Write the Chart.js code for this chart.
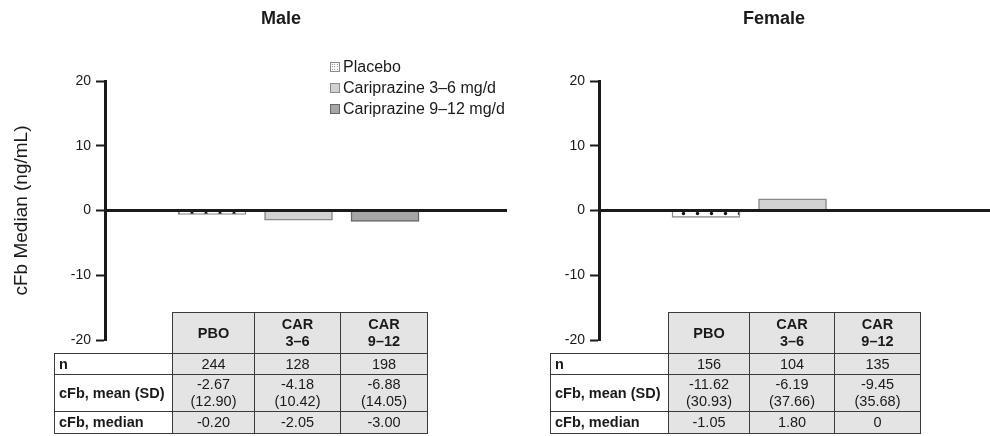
<!DOCTYPE html>
<html>
<head>
<meta charset="utf-8">
<script src="https://cdn.jsdelivr.net/npm/chart.js@4.4.1/dist/chart.umd.min.js"></script>
<style>
  html, body { margin: 0; padding: 0; background: #fff; }
  #wrap { position: relative; width: 990px; height: 436px; overflow: hidden; font-family: 'Liberation Sans', Arial, sans-serif; color: #1a1a1a; }
  canvas { position: absolute; top: 0; }
  .title { position: absolute; top: 8px; font-weight: bold; font-size: 18px; transform: translateX(-50%); white-space: nowrap; }
  #legend { position: absolute; left: 330px; top: 56px; font-size: 16px; line-height: 21px; }
  #legend .item { display: flex; align-items: center; white-space: nowrap; }
  #legend .sw { width: 8px; height: 8px; border: 1px solid #6e6e6e; margin-right: 3px; box-sizing: content-box; }
  table.tbl { position: absolute; top: 312px; border-collapse: collapse; table-layout: fixed; font-size: 14.5px; }
  table.tbl td { border: 1.5px solid #3a3a3a; padding: 0; text-align: center; background: #e4e4e4; line-height: 17px; }
  table.tbl td.lab { background: #fff; text-align: left; padding-left: 4px; font-weight: bold; }
  table.tbl td.blank { border: none; background: transparent; }
  table.tbl tr.head td { font-weight: bold; }
</style>
</head>
<body>
<div id="wrap">
  <canvas id="maleChart" width="510" height="436" style="left:0px;width:510px;height:436px"></canvas>
  <canvas id="femaleChart" width="496" height="436" style="left:494px;width:496px;height:436px"></canvas>
  <div class="title" style="left:281px">Male</div>
  <div class="title" style="left:774px">Female</div>
  <div id="legend"></div>
  <table class="tbl" id="maleTable" style="left:54px"></table>
  <table class="tbl" id="femaleTable" style="left:550px"></table>
</div>
<script>
// ---------- data ----------
const categories = ['PBO', 'CAR 3–6', 'CAR 9–12'];
const headerLines = [['PBO'], ['CAR', '3–6'], ['CAR', '9–12']];
const seriesNames = ['Placebo', 'Cariprazine 3–6 mg/d', 'Cariprazine 9–12 mg/d'];
const yTicks = [-20, -10, 0, 10, 20];
const yAxisTitle = 'cFb Median (ng/mL)';

// bar heights as drawn (cFb median, ng/mL)
const maleBars = [-0.6, -1.5, -1.7];
const femaleBars = [-1.05, 1.80, 0];

// table values
const rowLabels = ['n', 'cFb, mean (SD)', 'cFb, median'];
const maleN = ['244', '128', '198'];
const maleMean = ['-2.67', '-4.18', '-6.88'];
const maleSD = ['12.90', '10.42', '14.05'];
const maleMedian = ['-0.20', '-2.05', '-3.00'];
const femaleN = ['156', '104', '135'];
const femaleMean = ['-11.62', '-6.19', '-9.45'];
const femaleSD = ['30.93', '37.66', '35.68'];
const femaleMedian = ['-1.05', '1.80', '0'];

// ---------- styles ----------
const INK = '#1a1a1a';
const FONT = "'Liberation Sans', Arial, sans-serif";
const fills = [null, '#d2d2d2', '#a6a6a6'];
const borders = ['#8a8a8a', '#8a8a8a', '#666666'];

function dotPattern(dx, dy) {
  const c = document.createElement('canvas');
  c.width = 14; c.height = 14;
  const g = c.getContext('2d');
  g.fillStyle = '#ffffff';
  g.fillRect(0, 0, 14, 14);
  g.fillStyle = '#111111';
  g.beginPath();
  g.arc(dx, dy, 1.7, 0, Math.PI * 2);
  g.fill();
  return g.createPattern(c, 'repeat');
}

function makeChart(id, values, xMax, showTitle, padRight, patDx) {
  const ctx = document.getElementById(id).getContext('2d');
  const pattern = dotPattern(patDx, 3.5);
  return new Chart(ctx, {
    type: 'bar',
    data: {
      datasets: seriesNames.map((name, i) => ({
        label: name,
        data: [{ x: i, y: values[i] }],
        backgroundColor: i === 0 ? pattern : fills[i],
        borderColor: borders[i],
        borderWidth: 1.5,
        barThickness: 68,
        grouped: false
      }))
    },
    options: {
      responsive: false,
      animation: false,
      devicePixelRatio: 1,
      layout: { padding: { top: 81, bottom: 96, left: 0, right: padRight } },
      plugins: { legend: { display: false }, tooltip: { enabled: false }, title: { display: false } },
      scales: {
        x: {
          type: 'linear',
          min: -1.237,
          max: xMax,
          offset: false,
          display: false,
          grid: { display: false }
        },
        y: {
          min: -20,
          max: 20,
          z: 1,
          afterBuildTicks: s => { s.ticks = yTicks.map(v => ({ value: v })); },
          afterFit: s => { s.width = 105; },
          ticks: { font: { family: FONT, size: 14 }, color: INK, padding: 5 },
          grid: {
            drawOnChartArea: true,
            drawTicks: true,
            tickLength: 9,
            tickColor: INK,
            tickWidth: 2,
            color: c => (c.tick && c.tick.value === 0) ? INK : 'rgba(0,0,0,0)',
            lineWidth: c => (c.tick && c.tick.value === 0) ? 3 : 1
          },
          border: { display: true, color: INK, width: 3 },
          title: {
            display: showTitle,
            text: yAxisTitle,
            font: { family: FONT, size: 19 },
            color: INK,
            padding: { top: 10, bottom: 0 }
          }
        }
      }
    }
  });
}

makeChart('maleChart', maleBars, 3.41, true, 3, 10);
makeChart('femaleChart', femaleBars, 3.283, false, 0, 7.5);

// ---------- legend ----------
const swatchBg = [
  'radial-gradient(circle, #444 35%, transparent 40%) 0 0/2.5px 2.5px, #fff',
  fills[1],
  fills[2]
];
const legend = document.getElementById('legend');
seriesNames.forEach((name, i) => {
  const item = document.createElement('div');
  item.className = 'item';
  const sw = document.createElement('span');
  sw.className = 'sw';
  sw.style.background = swatchBg[i];
  sw.style.borderColor = borders[i];
  const tx = document.createElement('span');
  tx.textContent = name;
  item.appendChild(sw);
  item.appendChild(tx);
  legend.appendChild(item);
});

// ---------- tables ----------
function buildTable(id, colWidths, n, mean, sd, median) {
  const t = document.getElementById(id);
  const cg = document.createElement('colgroup');
  colWidths.forEach(w => { const c = document.createElement('col'); c.style.width = w + 'px'; cg.appendChild(c); });
  t.appendChild(cg);
  const rowHeights = [41, 21, 37, 22];
  // header
  const hr = document.createElement('tr');
  hr.className = 'head';
  hr.style.height = rowHeights[0] + 'px';
  const b = document.createElement('td'); b.className = 'blank'; hr.appendChild(b);
  headerLines.forEach(lines => {
    const td = document.createElement('td');
    lines.forEach((l, k) => { if (k) td.appendChild(document.createElement('br')); td.appendChild(document.createTextNode(l)); });
    hr.appendChild(td);
  });
  t.appendChild(hr);
  const rows = [
    n.map(v => [v]),
    mean.map((v, i) => [v, '(' + sd[i] + ')']),
    median.map(v => [v])
  ];
  rows.forEach((cells, r) => {
    const tr = document.createElement('tr');
    tr.style.height = rowHeights[r + 1] + 'px';
    const lab = document.createElement('td'); lab.className = 'lab'; lab.textContent = rowLabels[r]; tr.appendChild(lab);
    cells.forEach(lines => {
      const td = document.createElement('td');
      lines.forEach((l, k) => { if (k) td.appendChild(document.createElement('br')); td.appendChild(document.createTextNode(l)); });
      tr.appendChild(td);
    });
    t.appendChild(tr);
  });
}
buildTable('maleTable', [118, 82, 86, 87], maleN, maleMean, maleSD, maleMedian);
buildTable('femaleTable', [118, 81, 85, 86], femaleN, femaleMean, femaleSD, femaleMedian);
</script>
</body>
</html>
